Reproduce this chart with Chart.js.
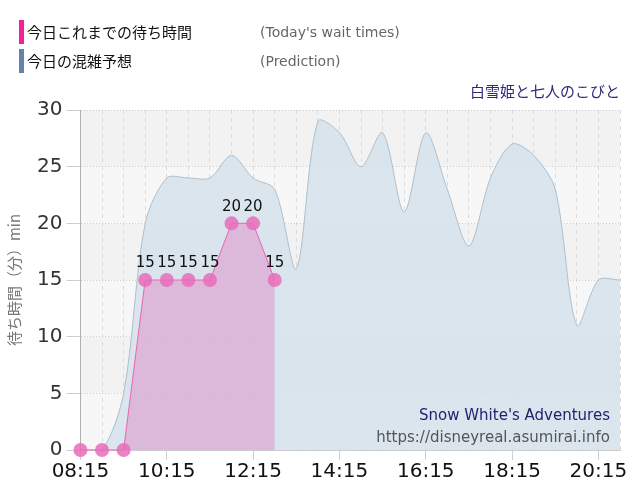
<!DOCTYPE html>
<html>
<head>
<meta charset="utf-8">
<script src="https://cdn.jsdelivr.net/npm/chart.js@4"></script>
<style>
  body { margin: 0; background: #fff; font-family: 'DejaVu Sans', 'Noto Sans CJK JP', sans-serif; }
  #wrap { position: relative; width: 640px; height: 500px; }
  #chart { position: absolute; left: 0; top: 0; }
  .legend-row { position: absolute; left: 19px; height: 24px; }
  .legend-row .bar { position: absolute; left: 0; top: 0; width: 5px; height: 24px; }
  .legend-row .jp { position: absolute; left: 8px; top: 0px; font-size: 15px; line-height: 24px; color: #111; font-family: 'Noto Sans CJK JP', sans-serif; white-space: nowrap; }
  .legend-row .en { position: absolute; left: 241px; top: 0px; font-size: 14px; line-height: 24px; color: #666; white-space: nowrap; }
  #ride { position: absolute; right: 20px; top: 80px; font-size: 15px; color: #2b2b7a; font-family: 'Noto Sans CJK JP', sans-serif; }
  #mark { position: absolute; right: 30px; top: 404px; text-align: right; font-size: 15px; line-height: 22px; }
  #mark .name { color: #22226e; }
  #mark .url { color: #555; }
</style>
</head>
<body>
<div id="wrap">
  <canvas id="chart" width="640" height="500"></canvas>
  <div class="legend-row" style="top:20px"><div class="bar" style="background:#f0229b"></div><span class="jp">今日これまでの待ち時間</span><span class="en">(Today's wait times)</span></div>
  <div class="legend-row" style="top:49px"><div class="bar" style="background:#6482aa"></div><span class="jp">今日の混雑予想</span><span class="en">(Prediction)</span></div>
  <div id="ride">白雪姫と七人のこびと</div>
  <div id="mark"><div class="name">Snow White's Adventures</div><div class="url">https://disneyreal.asumirai.info</div></div>
</div>
<script>
const timeLabels = ['08:15', '08:45', '09:15', '09:45', '10:15', '10:45', '11:15', '11:45', '12:15', '12:45',
  '13:15', '13:45', '14:15', '14:45', '15:15', '15:45', '16:15', '16:45', '17:15', '17:45',
  '18:15', '18:45', '19:15', '19:45', '20:15', '20:45'];
const waitTimes = [0, 0, 0, 15, 15, 15, 15, 20, 20, 15];
const prediction = [0, 0, 5, 20, 24, 24, 24, 26, 24, 23, 16, 29, 28, 25, 28, 21, 28, 23, 18, 24, 27, 26, 23, 11, 15, 15];
const yTicks = [0, 5, 10, 15, 20, 25, 30];

Chart.defaults.font.family = "'DejaVu Sans', 'Noto Sans CJK JP', sans-serif";

const isMajor = (i) => i % 4 === 0;

// alternating plot background bands
const bandsPlugin = {
  id: 'bands',
  beforeDraw(chart) {
    const { ctx, chartArea, scales } = chart;
    ctx.save();
    for (let i = 0; i < yTicks.length - 1; i++) {
      const top = scales.y.getPixelForValue(yTicks[i + 1]);
      const bottom = scales.y.getPixelForValue(yTicks[i]);
      ctx.fillStyle = i % 2 === 1 ? '#f2f2f2' : '#f7f7f7';
      ctx.fillRect(chartArea.left, top, chartArea.right - chartArea.left, bottom - top);
    }
    ctx.restore();
  }
};

// value labels above the wait-time points
const pointLabels = {
  id: 'pointLabels',
  afterDatasetsDraw(chart) {
    const { ctx } = chart;
    const meta = chart.getDatasetMeta(1);
    ctx.save();
    ctx.font = '15px "DejaVu Sans", sans-serif';
    ctx.fillStyle = '#111';
    ctx.textAlign = 'center';
    ctx.textBaseline = 'bottom';
    meta.data.forEach((pt, i) => {
      const v = waitTimes[i];
      if (!v) return;
      ctx.fillText(String(v), pt.x, pt.y - 9);
    });
    ctx.restore();
  }
};

new Chart(document.getElementById('chart'), {
  type: 'line',
  data: {
    labels: timeLabels,
    datasets: [{
      label: '今日の混雑予想',
      data: prediction,
      borderColor: '#aebfcc',
      borderWidth: 1,
      backgroundColor: 'rgba(214, 226, 235, 0.9)',
      fill: 'origin',
      tension: 0.3,
      pointRadius: 0,
      order: 2
    }, {
      label: '今日これまでの待ち時間',
      data: waitTimes,
      borderColor: '#ee62b4',
      borderWidth: 1,
      backgroundColor: 'rgba(220, 170, 212, 0.75)',
      fill: 'origin',
      tension: 0,
      pointRadius: 7,
      pointBackgroundColor: 'rgba(232, 108, 186, 0.85)',
      pointBorderWidth: 0,
      clip: false,
      order: 1
    }]
  },
  options: {
    responsive: false,
    animation: false,
    layout: { padding: { top: 110, right: 20, left: 5, bottom: 16 } },
    plugins: {
      legend: { display: false },
      tooltip: { enabled: false }
    },
    scales: {
      x: {
        offset: false,
        grid: {
          color: (c) => isMajor(c.index) ? '#d8d8d8' : '#dcdcdc',
          tickColor: (c) => isMajor(c.index) ? '#cfcfcf' : 'rgba(0,0,0,0)',
          tickLength: 10
        },
        border: { color: '#cccccc', dash: [4, 4] },
        ticks: {
          autoSkip: false,
          maxRotation: 0,
          color: '#111',
          font: { size: 20 },
          padding: 0,
          callback: (v, i) => isMajor(i) && i < timeLabels.length - 1 ? timeLabels[i] : ''
        }
      },
      y: {
        min: 0,
        max: 30,
        grid: { color: '#cfcfcf', tickLength: 14 },
        border: { color: '#b0b0b0', dash: [1, 2] },
        ticks: { stepSize: 5, color: '#333', font: { size: 20 }, padding: 4 },
        title: {
          display: true,
          text: '待ち時間（分）min',
          color: '#777',
          font: { size: 15, family: "'Noto Sans CJK JP', sans-serif" },
          padding: { top: 0, bottom: 10 }
        }
      }
    }
  },
  plugins: [bandsPlugin, pointLabels]
});
</script>
</body>
</html>
